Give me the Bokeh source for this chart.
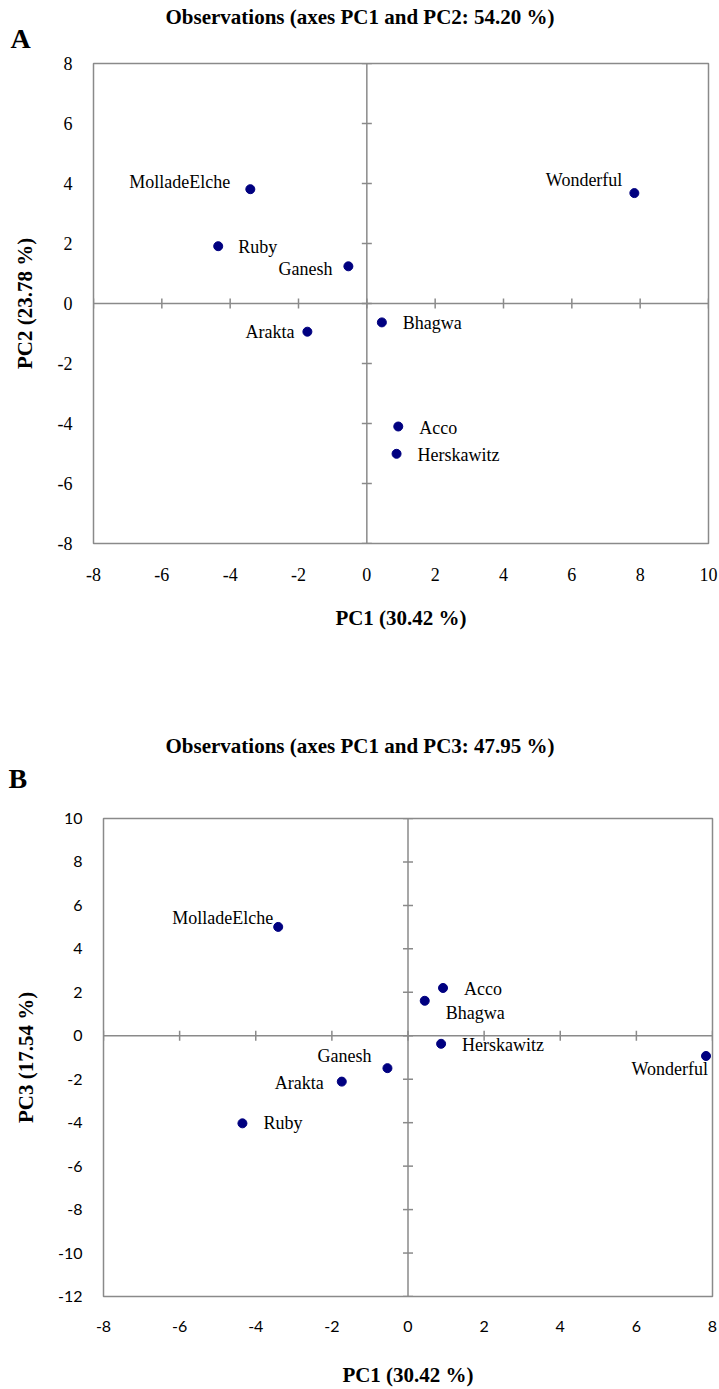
import math
from bokeh.plotting import figure
from bokeh.models import (Range1d, LinearAxis, FixedTicker, ColumnDataSource, Span, Title,
                          CustomJSTickFormatter)
from bokeh.core.properties import value
from bokeh.embed import file_html
from bokeh.resources import INLINE

# ---------------- data ----------------
cultivars = ["MolladeElche", "Ruby", "Ganesh", "Arakta", "Bhagwa", "Wonderful", "Acco", "Herskawitz"]
pc1 = [-3.41, -4.35, -0.54, -1.74, 0.44, 7.83, 0.92, 0.87]
pc2 = [3.81, 1.91, 1.24, -0.94, -0.63, 3.68, -4.10, -5.01]
pc3 = [5.01, -4.03, -1.49, -2.11, 1.61, -0.93, 2.20, -0.37]

title_a = "Observations (axes PC1 and PC2: 54.20 %)"
title_b = "Observations (axes PC1 and PC3: 47.95 %)"
xlabel = "PC1 (30.42 %)"
ylabel_a = "PC2 (23.78 %)"
ylabel_b = "PC3 (17.54 %)"

xticks_a = [-8, -6, -4, -2, 0, 2, 4, 6, 8, 10]
yticks_a = [-8, -6, -4, -2, 0, 2, 4, 6, 8]
xticks_b = [-8, -6, -4, -2, 0, 2, 4, 6, 8]
yticks_b = [-12, -10, -8, -6, -4, -2, 0, 2, 4, 6, 8, 10]

# ---------------- label placement (style) ----------------
align_a = ["right", "left", "right", "right", "left", "right", "left", "left"]
dx_a = [-20, 20, -16, -13, 21, -12, 21, 21]
dy_a = [-7, 1, 3, 0, 1, -13, 1, 1]
align_b = ["right", "left", "right", "right", "left", "right", "left", "left"]
dx_b = [-5, 21, -16, -18, 21, 2, 21, 21]
dy_b = [-9, 0, -12, 1, 12, 13, 1, 1]

# heading placement: (horizontal offset, standoff) for title and panel letter
head_a = dict(title_off=72, title_standoff=-35.7, letter_off=-83, letter_standoff=19.4)
head_b = dict(title_off=62, title_standoff=-36.5, letter_off=-95, letter_standoff=46.3)

GRAY = "#8a8a8a"
NAVY = "#000080"
SERIF = "Liberation Serif"


def make_plot(xs, ys, align, dx, dy, xticks, yticks, title, letter, ylabel, head,
              height, borders, tick_font, tick_size, xlab_standoff, ylab_standoff,
              letter_valign):
    top, bottom, left, right = borders
    p = figure(width=719, height=height, output_backend="svg", toolbar_location=None,
               x_range=Range1d(xticks[0], xticks[-1]), y_range=Range1d(yticks[0], yticks[-1]),
               x_axis_location=None, y_axis_location=None,
               min_border_top=top, min_border_bottom=bottom,
               min_border_left=left, min_border_right=right)
    p.grid.visible = False
    p.outline_line_color = GRAY
    p.outline_line_width = 1.5
    p.background_fill_color = "white"
    p.border_fill_color = "white"

    fmt = CustomJSTickFormatter(code="return tick.toFixed(0);")
    xa = LinearAxis(ticker=FixedTicker(ticks=xticks), axis_label=xlabel, formatter=fmt)
    ya = LinearAxis(ticker=FixedTicker(ticks=yticks), axis_label=ylabel, formatter=fmt)
    for ax in (xa, ya):
        ax.axis_line_color = None
        ax.major_tick_line_color = None
        ax.minor_tick_line_color = None
        ax.major_tick_in = 0
        ax.major_tick_out = 0
        ax.major_label_text_font = tick_font
        ax.major_label_text_font_size = tick_size
        ax.major_label_text_color = "black"
        ax.axis_label_text_font = SERIF
        ax.axis_label_text_font_style = "bold"
        ax.axis_label_text_font_size = "21px"
        ax.axis_label_text_color = "black"
    xa.major_label_standoff = 24
    xa.axis_label_standoff = xlab_standoff
    ya.major_label_standoff = 21
    ya.axis_label_standoff = ylab_standoff
    p.add_layout(xa, "below")
    p.add_layout(ya, "left")

    # internal axes through the origin, with crossing tick marks
    p.add_layout(Span(location=0, dimension="width", line_color=GRAY, line_width=1.5))
    p.add_layout(Span(location=0, dimension="height", line_color=GRAY, line_width=1.5))
    p.scatter(x=xticks, y=[0] * len(xticks), marker="dash", size=10, angle=math.pi / 2,
              line_color=GRAY, line_width=1.5)
    p.scatter(x=[0] * len(yticks), y=yticks, marker="dash", size=10,
              line_color=GRAY, line_width=1.5)

    src = ColumnDataSource(dict(x=xs, y=ys, name=cultivars, align=align, dx=dx, dy=dy))
    p.scatter(x="x", y="y", source=src, size=9, color=NAVY)
    p.text(x="x", y="y", text="name", source=src, text_align="align",
           x_offset="dx", y_offset="dy", text_baseline="middle",
           text_font=value(SERIF), text_font_size=value("18px"), text_color="black")

    # panel letter (nearest the frame) and the title above it
    p.add_layout(Title(text=letter, align="left", offset=head["letter_off"],
                       standoff=head["letter_standoff"], vertical_align=letter_valign,
                       text_font=SERIF, text_font_style="bold", text_font_size="28px",
                       text_color="black"), "above")
    p.add_layout(Title(text=title, align="left", offset=head["title_off"],
                       standoff=head["title_standoff"], vertical_align="bottom",
                       text_font=SERIF, text_font_style="bold", text_font_size="21px",
                       text_color="black"), "above")
    return p


pa = make_plot(pc1, pc2, align_a, dx_a, dy_a, xticks_a, yticks_a, title_a, "A", ylabel_a, head_a,
               690, (63, 147, 93, 11), SERIF, "18px", 22, 18, "bottom")
pb = make_plot(pc1, pc3, align_b, dx_b, dy_b, xticks_b, yticks_b, title_b, "B", ylabel_b, head_b,
               699, (128, 93, 103, 7), "Lato", "16px", 28, 17, "top")

open("out.html", "w").write(file_html([pa, pb], INLINE))
